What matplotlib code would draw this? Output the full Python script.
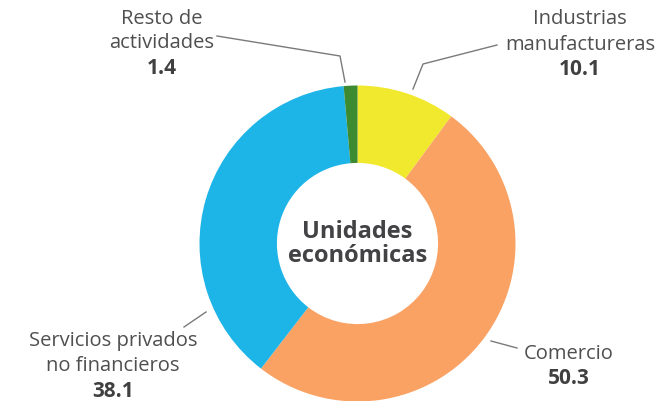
"""Donut chart: Unidades económicas por sector."""

import matplotlib.pyplot as plt

sectors = [
    "Industrias\nmanufactureras",
    "Comercio",
    "Servicios privados\nno financieros",
    "Resto de\nactividades",
]
shares = [10.1, 50.3, 38.1, 1.4]
colors = ["#F0E92E", "#F9A264", "#1DB4E7", "#3D8B30"]

# label layout in pixel coords (x, y from top), plus leader polylines
label_pos = [(580, 32), (569, 354), (113, 354), (162, 31)]
leaders = [
    [(497, 46), (423, 65), (413, 90)],
    [(491, 342), (517, 349)],
    [(184, 328), (206, 313)],
    [(217, 37), (340, 57), (345, 83)],
]

W, H = 658, 402
plt.rcParams["font.family"] = ["Open Sans", "DejaVu Sans"]

fig = plt.figure(figsize=(W / 100, H / 100), dpi=100)
ax = fig.add_axes([0, 0, 1, 1])

cx, cy, r = 357.5, H - 244.5, 158
ax.pie(
    shares,
    colors=colors,
    startangle=90,
    counterclock=False,
    center=(cx, cy),
    radius=r,
    wedgeprops=dict(width=r * 0.49, linewidth=0),
    frame=True,
)
ax.set_xlim(0, W)
ax.set_ylim(0, H)
ax.set_aspect("equal")
ax.axis("off")

ax.text(cx, cy, "Unidades\neconómicas", ha="center", va="center",
        fontsize=17, fontweight="bold", color="#434345", linespacing=1.0)

for name, val, (tx, ty), pts in zip(sectors, shares, label_pos, leaders):
    n = name.count("\n") + 1
    line_h = 25
    top = ty - (n - 1) * line_h / 2
    for i, line in enumerate(name.split("\n")):
        ax.text(tx, H - (top + i * line_h), line, ha="center", va="center",
                fontsize=14.5, color="#4F4F4F")
    ax.text(tx, H - (top + n * line_h), f"{val:.1f}", ha="center", va="center",
            fontsize=15, fontweight="bold", color="#404040")
    xs = [p[0] for p in pts]
    ys = [H - p[1] for p in pts]
    ax.plot(xs, ys, color="#7A7A7A", linewidth=1)

fig.savefig("out.png", dpi=100)
